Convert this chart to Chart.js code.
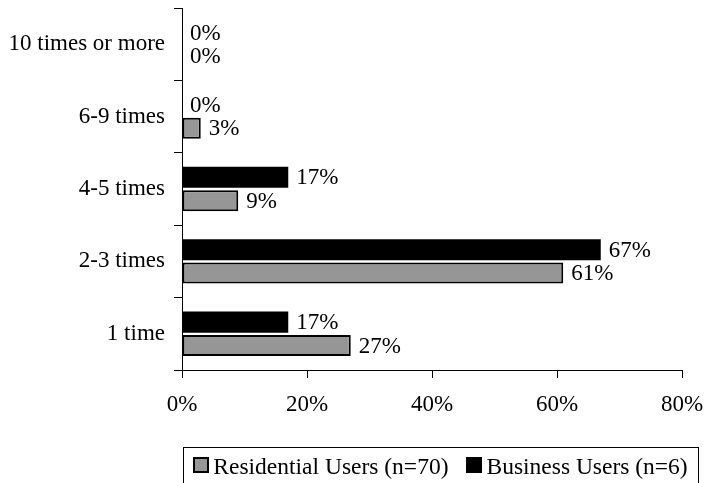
<!DOCTYPE html>
<html>
<head>
<meta charset="utf-8">
<script src="https://cdn.jsdelivr.net/npm/chart.js@4/dist/chart.umd.min.js"></script>
<style>
  body { margin: 0; background: #fff; }
  canvas { display: block; }
</style>
</head>
<body>
<canvas id="myChart" width="707" height="483"></canvas>
<script>
// visit frequency categories, top to bottom
var categories = ['10 times or more', '6-9 times', '4-5 times', '2-3 times', '1 time'];
var businessUsers = [0, 0, 17, 67, 17];
var residentialUsers = [0, 3, 9, 61, 27];
var xTicks = [0, 20, 40, 60, 80];

var serif = '"Liberation Serif", "Times New Roman", Times, serif';
var fontSize = 23;

// percentage printed just past the end of each bar
var valueLabels = {
    id: 'valueLabels',
    afterDatasetsDraw: function (chart) {
        var ctx = chart.ctx;
        ctx.save();
        ctx.font = fontSize + 'px ' + serif;
        ctx.fillStyle = '#000';
        ctx.textBaseline = 'middle';
        ctx.textAlign = 'left';
        chart.data.datasets.forEach(function (ds, i) {
            chart.getDatasetMeta(i).data.forEach(function (bar, j) {
                ctx.fillText(ds.data[j] + '%', bar.x + 8, bar.y + 1);
            });
        });
        ctx.restore();
    }
};

// boxed legend row under the axis, residential entry first
var boxedLegend = {
    id: 'boxedLegend',
    afterDraw: function (chart) {
        var ctx = chart.ctx;
        var area = chart.chartArea;
        var frameLeft = area.left + 1;
        var frameRight = chart.width - 9;
        var frameTop = area.bottom + 77;
        var midY = frameTop + 20;
        var box = 16, textGap = 4, itemGap = 18;

        ctx.save();
        ctx.font = '23.5px ' + serif;
        var items = chart.data.datasets.slice().reverse();
        var widths = items.map(function (ds) { return box + textGap + ctx.measureText(ds.label).width; });
        var total = widths.reduce(function (a, b) { return a + b; }, 0) + itemGap * (items.length - 1);
        var x = (frameLeft + frameRight) / 2 - total / 2;

        ctx.strokeStyle = '#000';
        ctx.lineWidth = 1;
        ctx.strokeRect(frameLeft + 0.5, frameTop + 0.5, frameRight - frameLeft, 60);

        ctx.textBaseline = 'middle';
        ctx.textAlign = 'left';
        items.forEach(function (ds, i) {
            var top = Math.round(midY - 10);
            ctx.fillStyle = ds.backgroundColor;
            ctx.fillRect(Math.round(x), top, box, box);
            ctx.lineWidth = 2;
            ctx.strokeStyle = '#000';
            ctx.strokeRect(Math.round(x) + 1, top + 1, box - 2, box - 2);
            ctx.fillStyle = '#000';
            ctx.fillText(ds.label, x + box + textGap, midY + 1);
            x += widths[i] + itemGap;
        });
        ctx.restore();
    }
};

function drawChart() {
    Chart.defaults.font.family = serif;
    Chart.defaults.font.size = fontSize;
    Chart.defaults.color = '#000';

    var ctx = document.getElementById('myChart').getContext('2d');
    new Chart(ctx, {
        type: 'bar',
        data: {
            labels: categories,
            datasets: [
                {
                    label: 'Business Users (n=6)',
                    data: businessUsers,
                    backgroundColor: '#000000',
                    borderColor: '#000000',
                    borderWidth: 0,
                },
                {
                    label: 'Residential Users (n=70)',
                    data: residentialUsers,
                    backgroundColor: '#969696',
                    borderColor: '#000000',
                    borderWidth: 2,
                    borderSkipped: false,
                },
            ],
        },
        options: {
            indexAxis: 'y',
            responsive: false,
            animation: false,
            categoryPercentage: 0.646,
            barPercentage: 0.9,
            layout: {
                padding: { top: 8, left: 0, right: 0, bottom: 37 },
            },
            scales: {
                x: {
                    min: xTicks[0],
                    max: xTicks[xTicks.length - 1],
                    afterBuildTicks: function (scale) {
                        scale.ticks = xTicks.map(function (v) { return { value: v }; });
                    },
                    afterFit: function (scale) {
                        scale.height = 76;
                        scale.paddingRight = 25;
                    },
                    ticks: {
                        padding: 13,
                        maxRotation: 0,
                        callback: function (v) { return v + '%'; },
                    },
                    grid: {
                        drawOnChartArea: false,
                        tickLength: 8,
                        color: '#000',
                    },
                    border: { color: '#000' },
                },
                y: {
                    afterFit: function (scale) {
                        scale.width = 182;
                        scale.paddingTop = 0;
                        scale.paddingBottom = 0;
                    },
                    ticks: { padding: 9 },
                    grid: {
                        offset: true,
                        drawOnChartArea: false,
                        tickLength: 8,
                        color: '#000',
                    },
                    border: { color: '#000' },
                },
            },
            plugins: {
                legend: { display: false },
                tooltip: { enabled: false },
            },
        },
        plugins: [valueLabels, boxedLegend],
    });
}

document.fonts.load(fontSize + 'px "Liberation Serif"').then(drawChart, drawChart);
</script>
</body>
</html>
